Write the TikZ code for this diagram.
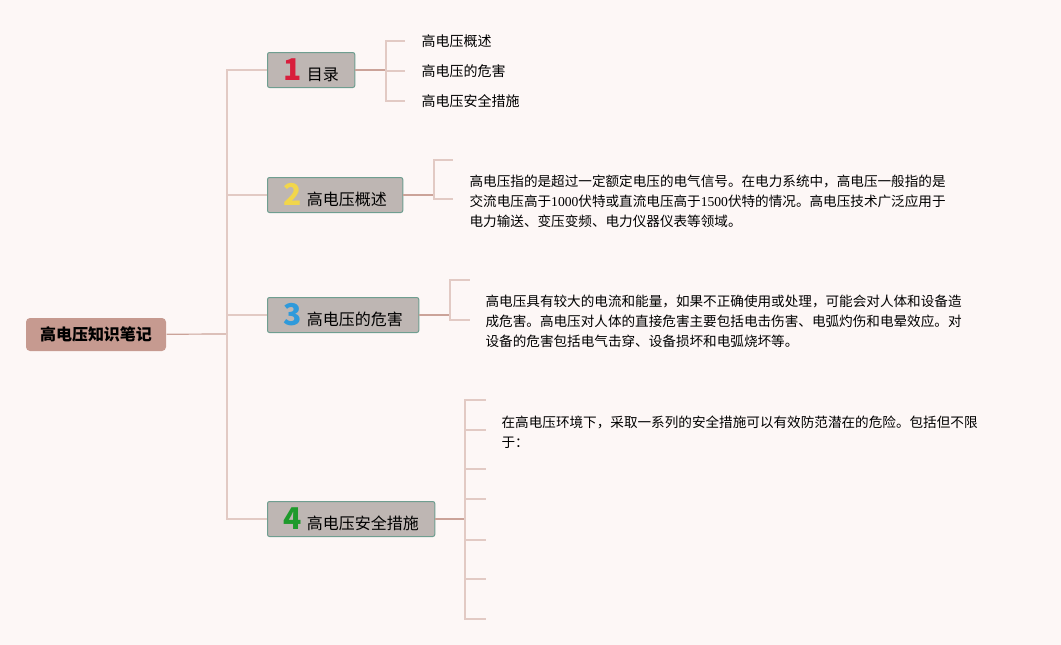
\documentclass[tikz,border=0pt]{standalone}
\usepackage{fontspec}
\setmainfont{Noto Sans CJK SC}
\newfontfamily\numfont{Liberation Serif}
\usetikzlibrary{positioning,calc}
\definecolor{bgpink}{HTML}{FDF7F6}
\definecolor{rootfill}{HTML}{C69A90}
\definecolor{boxfill}{HTML}{BEB6B3}
\definecolor{boxedge}{HTML}{6F9E90}
\definecolor{linkdark}{HTML}{CBA399}
\definecolor{linklight}{HTML}{E2CAC4}
\definecolor{tagred}{HTML}{D81E3C}
\definecolor{tagyellow}{HTML}{F2D64B}
\definecolor{tagblue}{HTML}{2F9ADB}
\definecolor{taggreen}{HTML}{1E9A2C}
\newcommand{\tagno}[2]{{\fontsize{30}{30}\selectfont\bfseries\color{#1}#2}\hspace{5pt}}

\begin{document}
\begin{tikzpicture}[x=1pt,y=-1pt,line width=1.2pt,
    rootbox/.style={fill=rootfill,rounded corners=4pt,minimum height=33pt,inner xsep=14pt,font=\fontsize{16}{16}\selectfont\bfseries},
    topic/.style={draw=boxedge,fill=boxfill,line width=1pt,rounded corners=2pt,minimum height=35pt,inner xsep=16pt,inner ysep=0pt,anchor=west,font=\fontsize{16}{16}\selectfont},
    item/.style={anchor=west,inner xsep=16pt,inner ysep=0pt,font=\fontsize{14}{14}\selectfont},
    para/.style={anchor=base west,inner sep=0pt,align=left,font=\fontsize{13.6}{20}\selectfont},
  ]
  \fill[bgpink] (0,0) rectangle (1061,645);
  \useasboundingbox (0,0) rectangle (1061,645);

  \node[rootbox] (root) at (96,334.5) {高电压知识笔记};
  \node[topic] (b1) at (267,70) {\tagno{tagred}{1}目录};
  \node[topic] (b2) at (267,195) {\tagno{tagyellow}{2}高电压概述};
  \node[topic] (b3) at (267,315) {\tagno{tagblue}{3}高电压的危害};
  \node[topic] (b4) at (267,519) {\tagno{taggreen}{4}高电压安全措施};

  \coordinate (trunk) at (227,334);
  \draw[linkdark] (root) -- (trunk);
  \foreach \i in {1,...,4}
    \draw[linklight] (b\i.west) -| (trunk);

  \node[item] (l1) at (405,41) {高电压概述};
  \node[item] (l2) at (405,71) {高电压的危害};
  \node[item] (l3) at (405,101) {高电压安全措施};
  \coordinate (k1) at (386,70);
  \draw[linkdark] (b1.east) -- (k1);
  \foreach \i in {1,2,3}
    \draw[linklight] (k1) |- (l\i.west);

  \coordinate (k2) at (434,195);
  \draw[linkdark] (b2.east) -- (k2);
  \foreach \y [count=\n] in {160,199} {
    \coordinate (s2-\n) at (453,\y);
    \draw[linklight] (k2) |- (s2-\n);
  }
  \node[para] (t2) at (469,226) {高电压指的是超过一定额定电压的电气信号。在电力系统中，高电压一般指的是\\交流电压高于{\numfont 1000}伏特或直流电压高于{\numfont 1500}伏特的情况。高电压技术广泛应用于\\电力输送、变压变频、电力仪器仪表等领域。};

  \coordinate (k3) at (450,315);
  \draw[linkdark] (b3.east) -- (k3);
  \foreach \y [count=\n] in {280,320} {
    \coordinate (s3-\n) at (470,\y);
    \draw[linklight] (k3) |- (s3-\n);
  }
  \node[para] (t3) at (485,346) {高电压具有较大的电流和能量，如果不正确使用或处理，可能会对人体和设备造\\成危害。高电压对人体的直接危害主要包括电击伤害、电弧灼伤和电晕效应。对\\设备的危害包括电气击穿、设备损坏和电弧烧坏等。};

  \coordinate (k4) at (465,519);
  \draw[linkdark] (b4.east) -- (k4);
  \foreach \y [count=\n] in {400,430,469,499,540,579,619} {
    \coordinate (s4-\n) at (486,\y);
    \draw[linklight] (k4) |- (s4-\n);
  }
  \node[para] (t4) at (501,447) {在高电压环境下，采取一系列的安全措施可以有效防范潜在的危险。包括但不限\\于：};
\end{tikzpicture}
\end{document}
